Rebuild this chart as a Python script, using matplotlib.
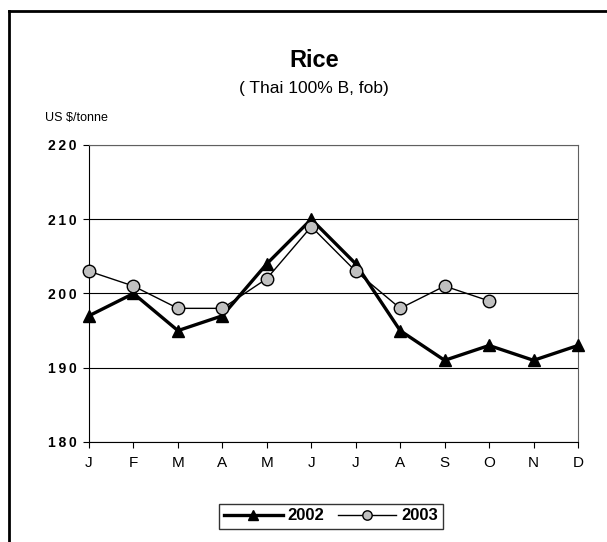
import matplotlib.pyplot as plt
from matplotlib.lines import Line2D

plt.rcParams['font.family'] = ['Liberation Sans', 'DejaVu Sans']

months = ['J', 'F', 'M', 'A', 'M', 'J', 'J', 'A', 'S', 'O', 'N', 'D']
price_2002 = [197, 200, 195, 197, 204, 210, 204, 195, 191, 193, 191, 193]
price_2003 = [203, 201, 198, 198, 202, 209, 203, 198, 201, 199]
y_ticks = [180, 190, 200, 210, 220]

fig = plt.figure(figsize=(6.07, 5.42), dpi=100)
ax = fig.add_axes([89 / 607, 1 - 442 / 542, (578 - 89) / 607, (442 - 145) / 542])

# frame around the chart (only left and top edges are visible)
fig.add_artist(Line2D([9 / 607, 1.0], [1 - 11 / 542, 1 - 11 / 542],
                      transform=fig.transFigure, color='black', lw=2))
fig.add_artist(Line2D([9 / 607, 9 / 607], [1 - 11 / 542, 0.0],
                      transform=fig.transFigure, color='black', lw=2))

x = list(range(len(months)))
ax.plot(x, price_2002, color='black', lw=2.4, marker='^', markersize=9,
        label='2002', zorder=3, clip_on=False)
ax.plot(x[:len(price_2003)], price_2003, color='black', lw=1, marker='o',
        markersize=9, markerfacecolor='#c0c0c0', markeredgecolor='black',
        markeredgewidth=1, label='2003', zorder=4, clip_on=False)

ax.set_xlim(0, 11)
ax.set_ylim(180, 220)
ax.set_xticks(x)
ax.set_xticklabels(months, fontsize=11)
ax.set_yticks(y_ticks)
ax.set_yticklabels(['\u2009'.join(str(v)) for v in y_ticks], fontsize=10,
                   fontweight='bold')
ax.tick_params(direction='out', length=4, width=0.8, pad=5)
ax.tick_params(axis='x', pad=6)
ax.grid(axis='y', color='black', lw=0.8)
for s in ax.spines.values():
    s.set_linewidth(0.8)
ax.spines['right'].set_color('#606060')
ax.spines['top'].set_color('#606060')

fig.text(314 / 607, 1 - 60 / 542, 'Rice', ha='center', va='center',
         fontsize=17, fontweight='bold')
fig.text(314 / 607, 1 - 88 / 542, '( Thai 100% B, fob)', ha='center',
         va='center', fontsize=12.5)
fig.text(45 / 607, 1 - 118 / 542, 'US $/tonne', ha='left', va='center',
         fontsize=9)

leg = fig.legend(loc='center', bbox_to_anchor=(331 / 607, 1 - 516 / 542),
                 ncol=2, frameon=True, fancybox=False, edgecolor='black',
                 prop={'weight': 'bold', 'size': 12}, handlelength=3.5,
                 handletextpad=0.3, columnspacing=0.8, borderpad=0.3,
                 markerscale=0.75)
leg.get_frame().set_linewidth(1)

fig.savefig('out.png', dpi=100)
